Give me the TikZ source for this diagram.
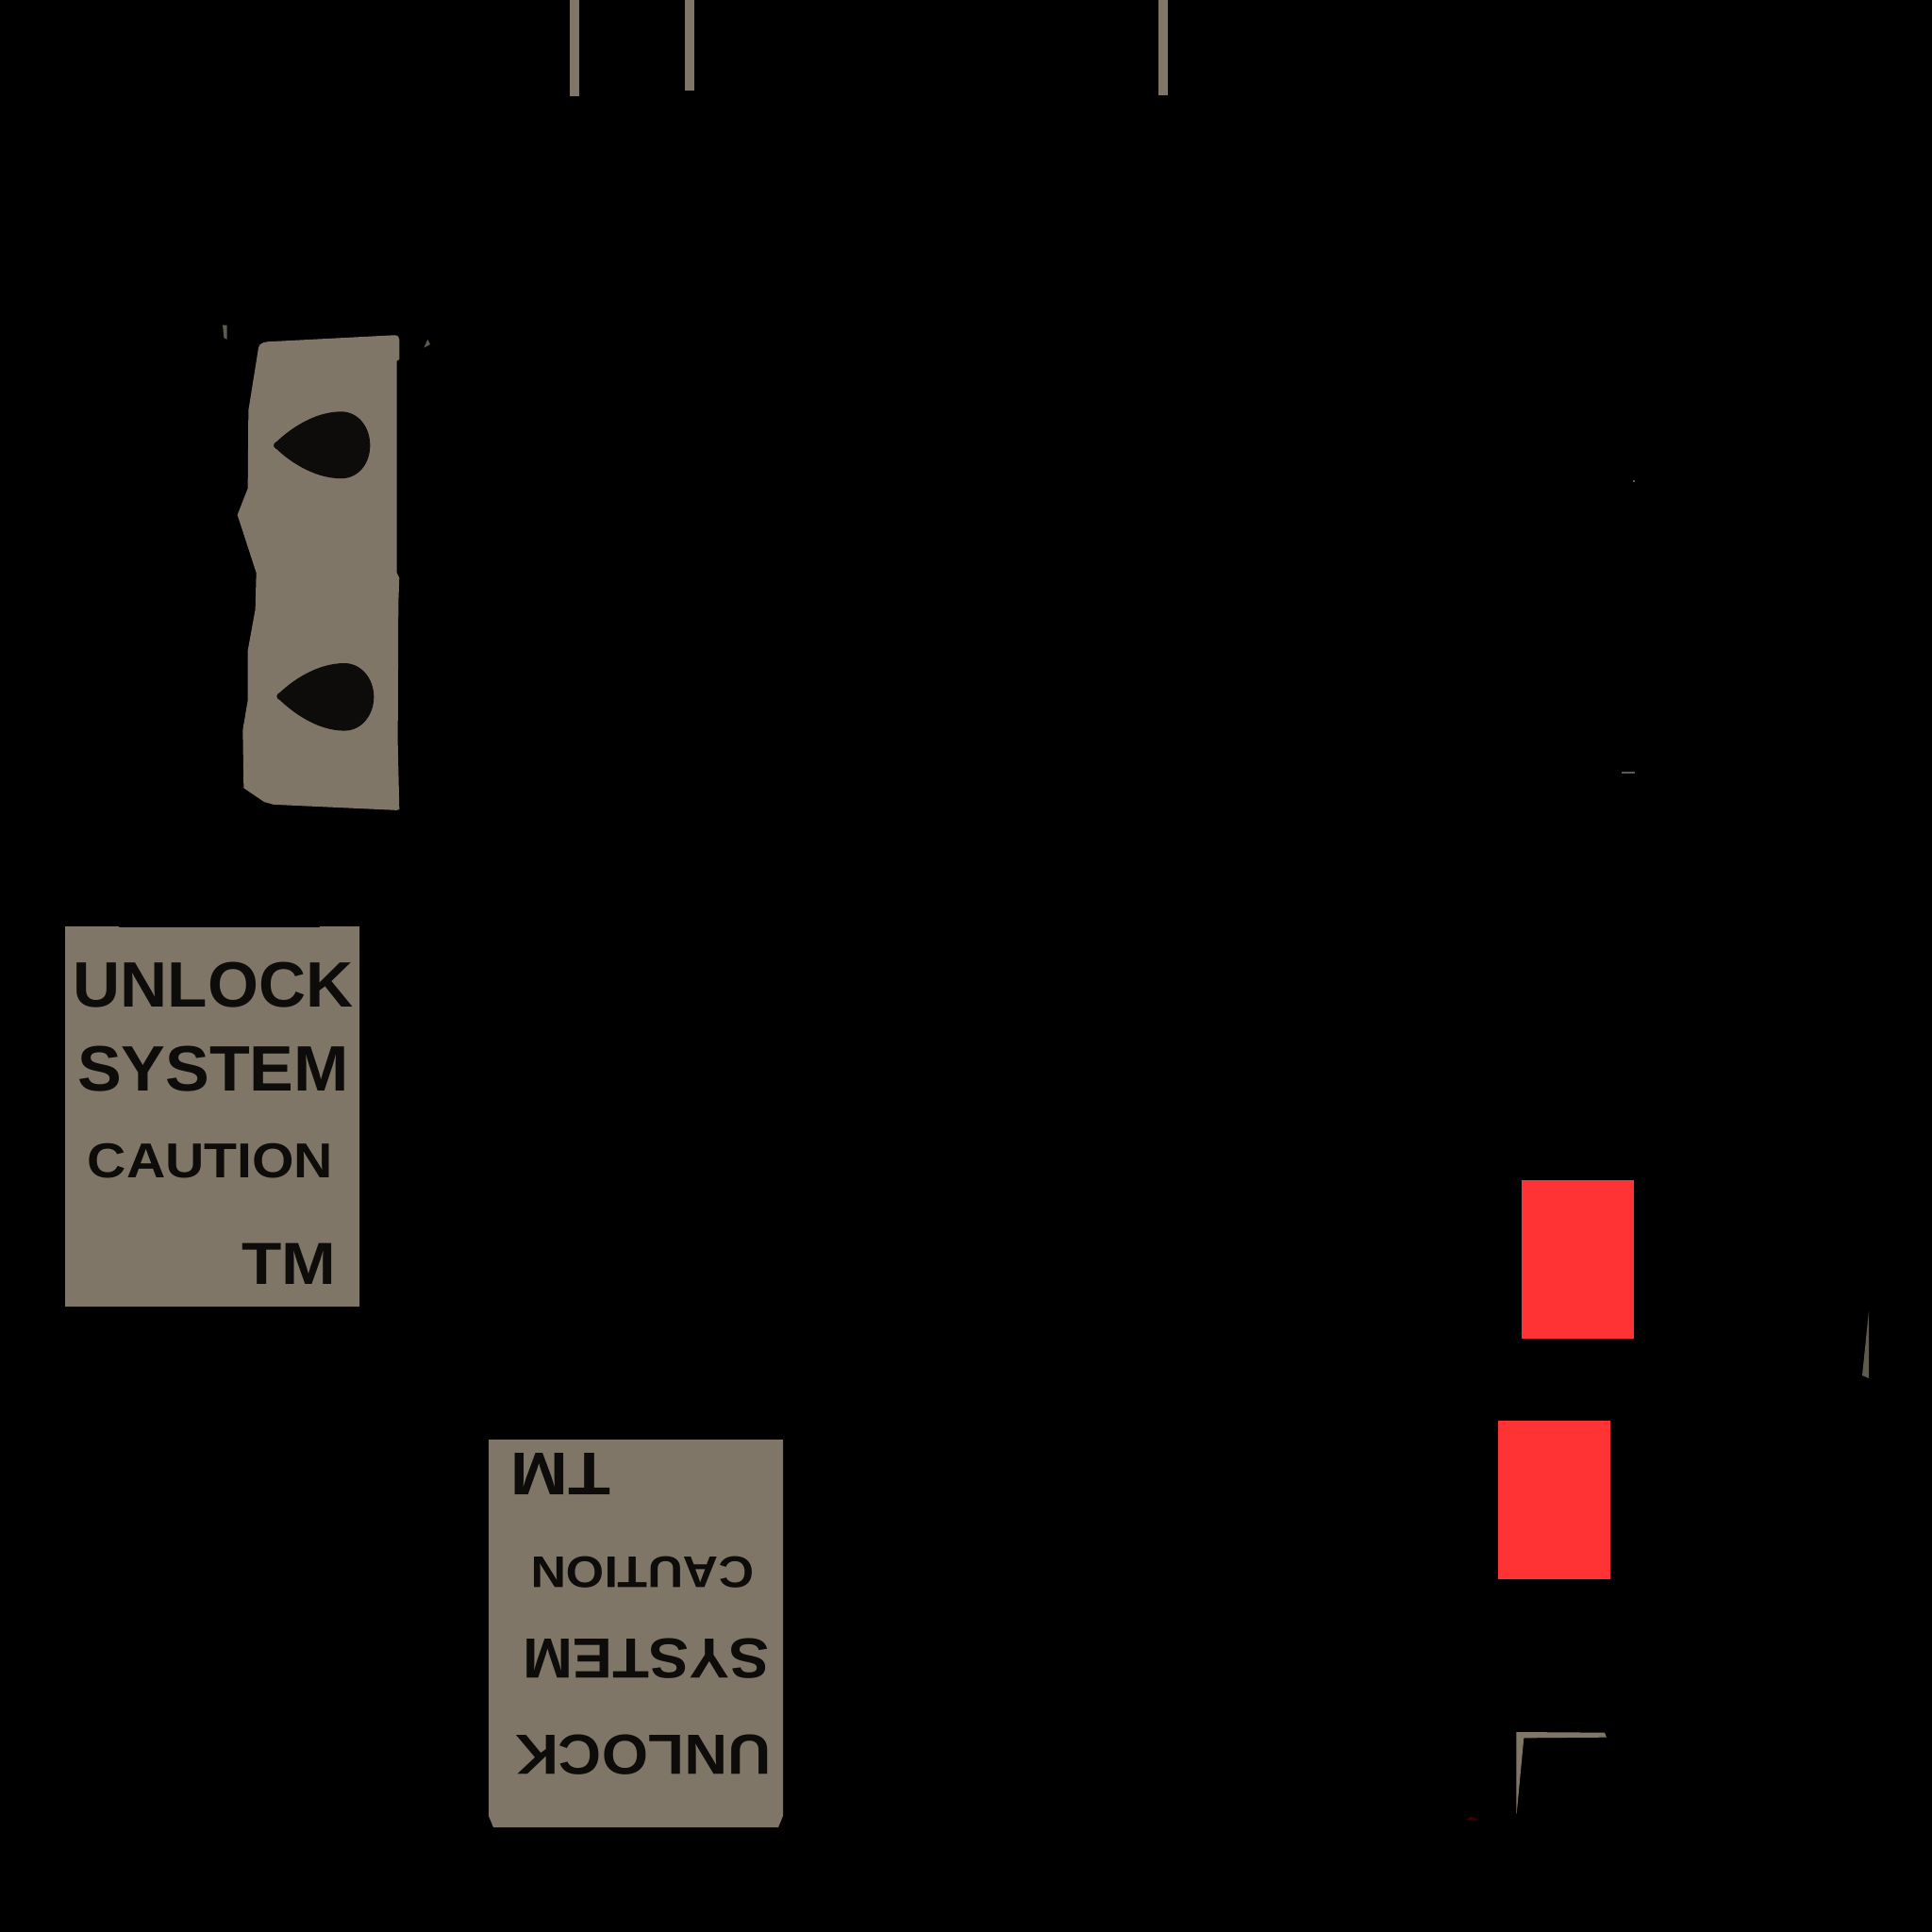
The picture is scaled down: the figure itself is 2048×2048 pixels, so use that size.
\documentclass[tikz,border=0pt]{standalone}
\usepackage{fontspec}
\usepackage{graphicx}
\setmainfont{Liberation Sans}[Kerning=Off]
\definecolor{tan}{HTML}{7F7668}
\definecolor{ink}{HTML}{0D0C0A}
\definecolor{redbox}{HTML}{FF3333}
\definecolor{speck}{HTML}{5F5A50}
\newcommand{\lbl}[3]{\fontsize{#1}{#1}\selectfont\bfseries\scalebox{#2}[1]{#3}}
\tikzset{
  label text/.style={anchor=base,inner sep=0pt,outer sep=0pt,text=ink},
  flipped text/.style={label text,rotate=180},
  tan part/.style={fill=tan,draw=none},
  red part/.style={fill=redbox,draw=none},
  speck part/.style={fill=speck,draw=none},
  hole part/.style={fill=ink,draw=none}
}
\begin{document}
\begin{tikzpicture}[x=1pt,y=-1pt]
\useasboundingbox (0,0) rectangle (2048,2048);
\fill[black] (0,0) rectangle (2048,2048);
% top bars
\fill[tan part] (604,0) rectangle (614,102);
\fill[tan part] (726,0) rectangle (736,96);
\fill[tan part] (1228,0) rectangle (1237.5,101);
% latch plate
\begin{scope}[shift={(220,330)},x=0.3333pt,y=-0.3509pt]
\fill[tan part] (190,92) -- (595,72) .. controls (605,72) and (610,78) .. (610,85) -- (610,145) -- (602,150) -- (602,790)
  -- (610,805) -- (607,880) -- (605,1300) -- (610,1505) -- (600,1507) -- (210,1490)
  -- (180,1482) -- (115,1440) -- (112,1265) -- (128,1175) -- (128,1025) -- (152,900)
  -- (155,790) -- (95,615) -- (128,535) -- (130,300) -- (162,110) .. controls (164,100) and (175,93) .. (190,92) -- cycle;
\fill[hole part] (222,392) .. controls (255,362) and (335,303) .. (425,303)
  .. controls (480,303) and (517,350) .. (517,405)
  .. controls (517,460) and (480,505) .. (425,505)
  .. controls (335,505) and (255,448) .. (222,418)
  .. controls (206,410) and (206,400) .. (222,392) -- cycle;
\fill[hole part] (232,1150) .. controls (265,1120) and (345,1063) .. (435,1063)
  .. controls (490,1063) and (529,1110) .. (529,1165)
  .. controls (529,1220) and (490,1267) .. (435,1267)
  .. controls (345,1267) and (265,1206) .. (232,1176)
  .. controls (216,1168) and (216,1158) .. (232,1150) -- cycle;
\fill[speck part] (48,42) -- (62,42) -- (62,85) -- (52,80) -- cycle;
\fill[speck part] (688,110) -- (700,85) -- (708,100) -- cycle;
\end{scope}
% upper label
\fill[tan part] (69,982) -- (126,982) -- (126,983) -- (339,983) -- (339,982) -- (381,982) -- (381,1385) -- (69,1385) -- cycle;
\node[label text] (ua) at (226,1067) {\lbl{68}{1.02}{UNLOCK}};
\node[label text] (ub) at (226,1156) {\lbl{68}{1.03}{SYSTEM}};
\node[label text] (uc) at (223,1248) {\lbl{52}{1.10}{CAUTION}};
\node[label text] (ud) at (306.5,1361) {\lbl{63}{1.10}{TM}};
% lower label
\fill[tan part] (518,1526) -- (830,1526) -- (830,1925) -- (825,1937) -- (523,1937) -- (518,1925) -- cycle;
\node[flipped text] (la) at (681.7,1839) {\lbl{60}{1.055}{UNLOCK}};
\node[flipped text] (lb) at (685,1737) {\lbl{60}{1.06}{SYSTEM}};
\node[flipped text] (lc) at (681,1650) {\lbl{47}{1.105}{CAUTION}};
\node[flipped text] (ld) at (594,1540) {\lbl{64}{1.15}{TM}};
% red blocks
\fill[red part] (1613,1251) rectangle (1732,1418.7);
\fill[red part] (1588,1506) rectangle (1707,1673.7);
% bottom right angle
\begin{scope}[shift={(1530,1810)},x=0.3333pt,y=-0.3333pt]
\fill[tan part] (232,78) -- (513,80) -- (519,95) -- (256,97) -- (233,338) -- (232,338) -- cycle;
\fill[fill=red!25!black] (75,358) -- (85,346) -- (115,358) -- cycle;
\end{scope}
% slivers
\fill[speck part] (1981,1390) -- (1981,1461) -- (1974,1458) -- cycle;
\fill[speck part] (1731,509) rectangle (1733,511);
\fill[speck part] (1719,818) rectangle (1733,819.5);
\end{tikzpicture}
\end{document}
